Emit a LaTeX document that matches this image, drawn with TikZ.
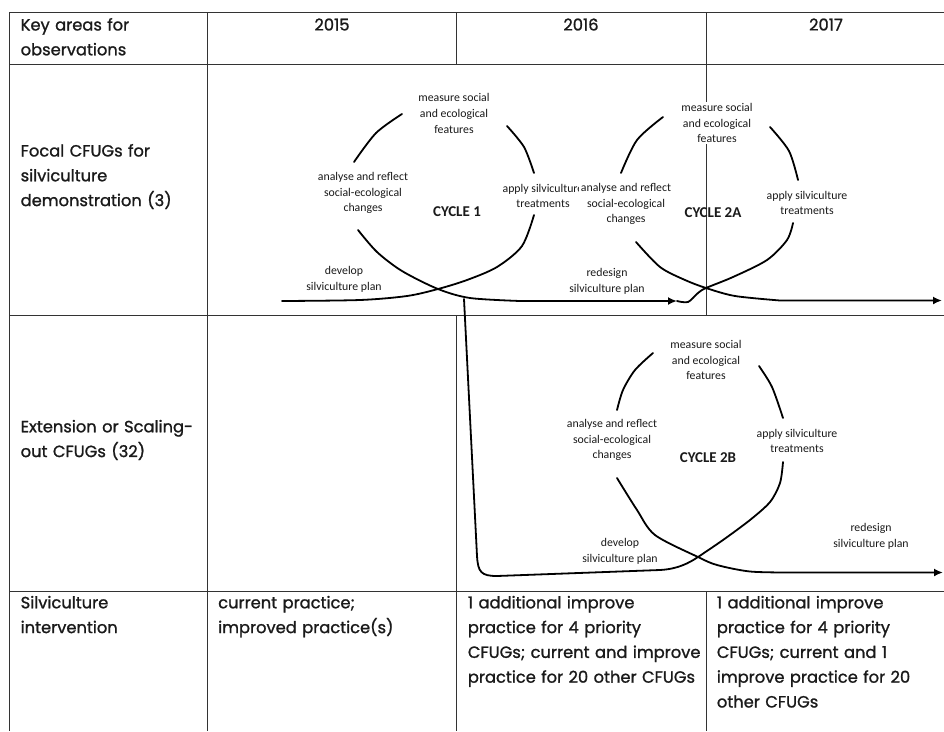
\documentclass[tikz,border=0pt]{standalone}
\usepackage{fontspec}
\newfontfamily\tabfont[FakeBold=1.2]{Poppins}
\newfontfamily\cyclefont{Carlito}
\usepackage{tikz}
\usetikzlibrary{arrows.meta}
\tikzset{>={Latex[length=9pt,width=8pt]}}
\definecolor{rule}{HTML}{333333}
\definecolor{ink}{HTML}{1A1A1A}

\tikzset{
  gridline/.style={draw=rule, line width=1pt},
  cell/.style={anchor=base west, inner sep=0pt, text width=260pt, align=left, text=ink,
    font=\tabfont\fontsize{16.3}{24.8}\selectfont},
  year/.style={anchor=base, inner sep=0pt, text=ink,
    font=\tabfont\fontsize{16.3}{24.8}\selectfont},
  phase/.style={align=center, fill=white, inner sep=1.5pt, text=ink,
    font=\cyclefont\fontsize{11.8}{15.7}\selectfont},
  cyclename/.style={inner sep=0pt, text=ink,
    font=\cyclefont\bfseries\fontsize{15}{18}\selectfont},
  flow/.style={draw=black, line width=1.8pt, line cap=round, line join=round}
}

\begin{document}
\begin{tikzpicture}[x=1pt, y=-1pt]
\useasboundingbox (0,0) rectangle (944,731);

% table rules
\draw[gridline] (9,12) -- (944,12);
\draw[gridline] (9,64) -- (944,64);
\draw[gridline] (9,315) -- (944,315);
\draw[gridline] (9,591) -- (944,591);
\draw[gridline] (9,12) -- (9,731);
\draw[gridline] (207.5,12) -- (207.5,731);
\draw[gridline] (456,12) -- (456,64);
\draw[gridline] (456,315) -- (456,731);
\draw[gridline] (706,12) -- (706,315);
\draw[gridline] (706,591) -- (706,731);

% table texts
\node[cell] (keyarea) at (20.5,30.5) {Key areas for\\observations};
\node[year] (y2015) at (332,30.5) {2015};
\node[year] (y2016) at (581,30.5) {2016};
\node[year] (y2017) at (826,30.5) {2017};
\node[cell] (focal) at (20.5,156.5) {Focal CFUGs for\\silviculture\\demonstration (3)};
\node[cell] (extension) at (20.5,432.3) {Extension or Scaling-\\out CFUGs (32)};
\node[cell] (intervention) at (20.5,608.3) {Silviculture\\intervention};
\node[cell] (int2015) at (218,608.3) {current practice;\\improved practice(s)};
\node[cell] (int2016) at (467.7,608.3) {1 additional improve\\practice for 4 priority\\CFUGs; current and improve\\practice for 20 other CFUGs};
\node[cell] (int2017) at (716.7,608.3) {1 additional improve\\practice for 4 priority\\CFUGs; current and 1\\improve practice for 20\\other CFUGs};

% cycle 1
\node[phase] (c1measure) at (454,113.5) {measure social\\and ecological\\features};
\node[phase] (c1analyse) at (363,193) {analyse and reflect\\social-ecological\\changes};
\node[phase] (c1apply) at (543,196) {apply silviculture\\treatments};
\node[phase] (c1develop) at (344,279) {develop\\silviculture plan};
\node[cyclename] (c1name) at (457,212) {CYCLE 1};

% cycle 2A
\node[phase] (c2ameasure) at (717,123) {measure social\\and ecological\\features};
\node[phase] (c2aanalyse) at (626,204) {analyse and reflect\\social-ecological\\changes};
\node[phase] (c2aapply) at (807,203) {apply silviculture\\treatments};
\node[phase] (c2aredesign) at (607,281) {redesign\\silviculture plan};
\node[cyclename] (c2aname) at (713,213) {CYCLE 2A};

% cycle 2B
\node[phase] (c2bmeasure) at (706,360) {measure social\\and ecological\\features};
\node[phase] (c2banalyse) at (612,440) {analyse and reflect\\social-ecological\\changes};
\node[phase] (c2bapply) at (797,441) {apply silviculture\\treatments};
\node[phase] (c2bdevelop) at (620,551) {develop\\silviculture plan};
\node[phase] (c2bredesign) at (871,536) {redesign\\silviculture plan};
\node[cyclename] (c2bname) at (708,458) {CYCLE 2B};

% loops
\coordinate (c1cross) at (438,289);
\coordinate (c1branch) at (464,299);
\coordinate (c2across) at (706,288);
\coordinate (c2bcross) at (698,557);

\draw[flow] plot[smooth] coordinates {(402,114) (376,133) (354,162)};
\draw[flow] plot[smooth] coordinates {(507,126) (524,147) (534,173)};
\draw[flow] plot[smooth] coordinates {(534,215) (522,246) (497,267) (467,280) (c1cross) (407,296) (360,300) (282,301)};
\draw[flow, ->] plot[smooth] coordinates {(358,230) (377,252) (402,271) (c1cross) (470,298) (520,301)} -- (677,301) coordinate (c1end);

\draw[flow] plot[smooth] coordinates {(c1end) (688,302) (698,293) (c2across) (733,277) (767,260) (787,240) (793,223)};
\draw[flow] plot[smooth] coordinates {(663,117) (637,140) (621,173)};
\draw[flow] plot[smooth] coordinates {(770,127) (789,151) (798,180)};
\draw[flow, ->] plot[smooth] coordinates {(636,242) (660,267) (685,280) (c2across) (735,296) (780,300.5)} -- (942,300.5);

\draw[flow] (c1branch) -- (477,556) .. controls (478,572) and (481,576) .. (497,576) -- (660,570)
  .. controls (678,569) and (689,563) .. (c2bcross)
  -- plot[smooth] coordinates {(c2bcross) (723,540) (750,520) (770,502) (780,483) (783,462)};
\draw[flow] plot[smooth] coordinates {(653,353) (635,370) (623,390) (617,410)};
\draw[flow] plot[smooth] coordinates {(759,366) (772,387) (783,418)};
\draw[flow, ->] plot[smooth] coordinates {(617,478) (637,510) (655,535) (c2bcross) (717,565) (750,571.5) (790,572.5)} -- (943,572.5);
\end{tikzpicture}
\end{document}
